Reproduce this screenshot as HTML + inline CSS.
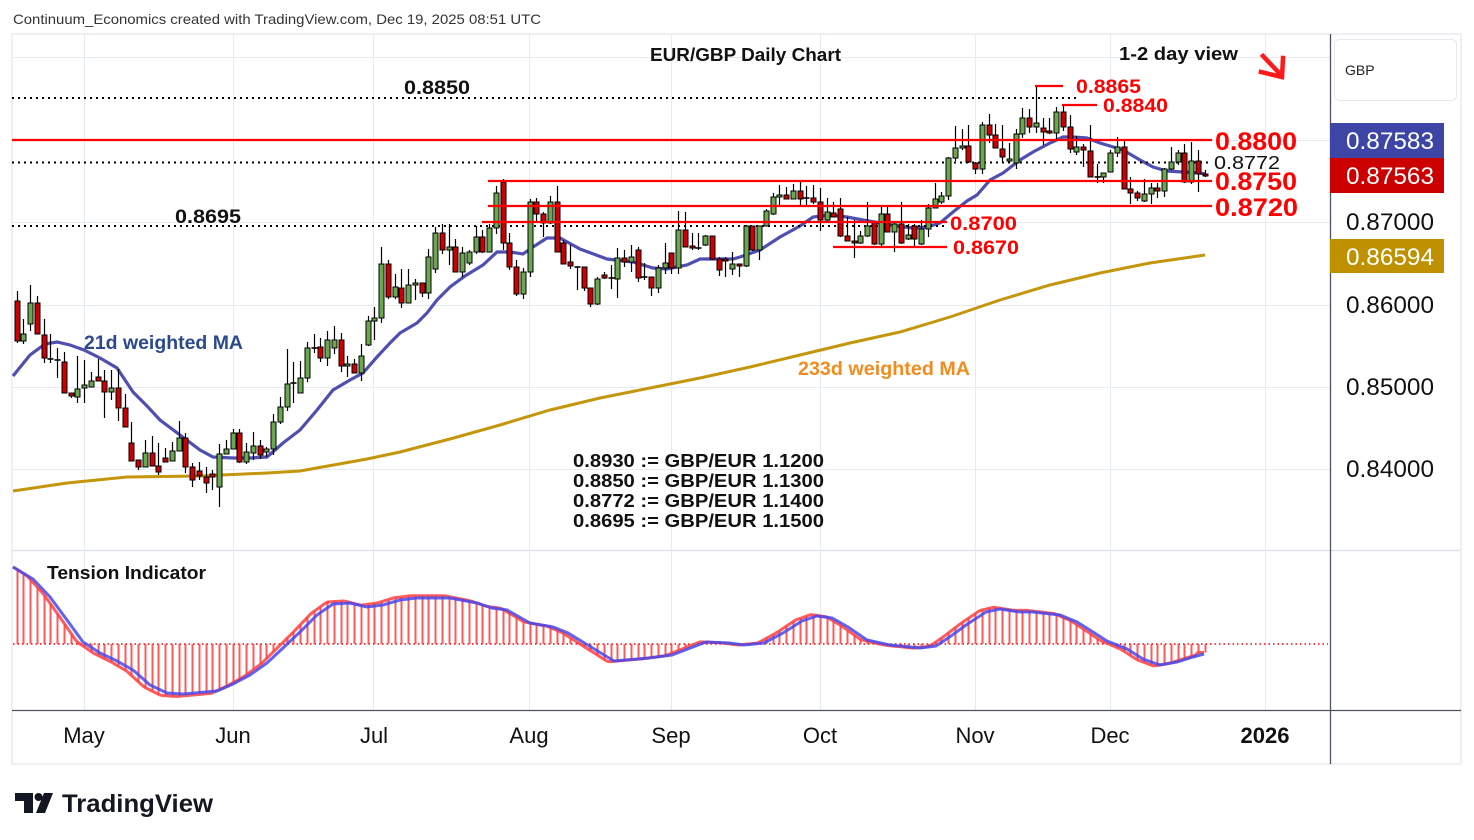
<!DOCTYPE html>
<html><head><meta charset="utf-8">
<style>
html,body{margin:0;padding:0;background:#fff;}
svg{display:block;}
text{font-family:"Liberation Sans",sans-serif;}
</style></head>
<body>
<svg id="s" width="1474" height="840" viewBox="0 0 1474 840" xmlns="http://www.w3.org/2000/svg">
<rect x="0" y="0" width="1474" height="840" fill="#fff"/>
<text x="13" y="24" font-size="14" fill="#333" textLength="528" lengthAdjust="spacingAndGlyphs">Continuum_Economics created with TradingView.com, Dec 19, 2025 08:51 UTC</text>
<rect x="12" y="34" width="1449" height="730" fill="#fff" stroke="#eef0f3" stroke-width="2"/>
<g stroke="#e6ecf3" stroke-width="1">
<line x1="12" x2="1330" y1="57.5" y2="57.5"/>
<line x1="12" x2="1330" y1="140.5" y2="140.5"/>
<line x1="12" x2="1330" y1="222.5" y2="222.5"/>
<line x1="12" x2="1330" y1="305.5" y2="305.5"/>
<line x1="12" x2="1330" y1="387.5" y2="387.5"/>
<line x1="12" x2="1330" y1="469.5" y2="469.5"/>
<line x1="84.5" x2="84.5" y1="34" y2="710"/>
<line x1="233.5" x2="233.5" y1="34" y2="710"/>
<line x1="373.5" x2="373.5" y1="34" y2="710"/>
<line x1="529.5" x2="529.5" y1="34" y2="710"/>
<line x1="671.5" x2="671.5" y1="34" y2="710"/>
<line x1="820.5" x2="820.5" y1="34" y2="710"/>
<line x1="975.5" x2="975.5" y1="34" y2="710"/>
<line x1="1110.5" x2="1110.5" y1="34" y2="710"/>
<line x1="1265.5" x2="1265.5" y1="34" y2="710"/>
</g>
<line x1="12" x2="1461" y1="550.5" y2="550.5" stroke="#e0e3eb" stroke-width="1.5"/>
<line x1="1330.5" x2="1330.5" y1="34" y2="764" stroke="#50535e" stroke-width="1.3"/>
<line x1="12" x2="1461" y1="710.5" y2="710.5" stroke="#50535e" stroke-width="1.3"/>

<!-- tension -->
<line x1="13" x2="1328" y1="644" y2="644" stroke="#ff0000" stroke-width="1.5" stroke-dasharray="1.5 3"/>
<g id="hist"></g>
<polyline id="tred" fill="none" stroke="#ff4040" stroke-opacity="0.85" stroke-width="3"/>
<polyline id="tblue" fill="none" stroke="#4848f0" stroke-opacity="0.85" stroke-width="3"/>

<!-- MAs -->
<polyline id="gold" fill="none" stroke="#c4960c" stroke-width="3"/>
<polyline id="blue" fill="none" stroke="#3c3ca8" stroke-opacity="0.9" stroke-width="3.2"/>

<!-- dotted levels -->
<g stroke="#000" stroke-width="2" stroke-dasharray="2 4">
<line x1="12" x2="1077" y1="98" y2="98"/>
<line x1="12" x2="1210" y1="162.5" y2="162.5"/>
<line x1="12" x2="945" y1="226" y2="226"/>
</g>

<g id="candles"></g>

<!-- red levels -->
<g stroke="#ff0000" stroke-width="2.2">
<line x1="12" x2="1212" y1="140" y2="140"/>
<line x1="488" x2="1212" y1="181" y2="181"/>
<line x1="488" x2="1212" y1="206" y2="206"/>
<line x1="482" x2="947" y1="222" y2="222"/>
<line x1="833" x2="947" y1="247" y2="247"/>
<line x1="1035" x2="1063" y1="86" y2="86"/>
<line x1="1062" x2="1097" y1="105" y2="105"/>
</g>
<g font-weight="bold" fill="#ff0000">
<text x="1215" y="150" font-size="25" textLength="82" lengthAdjust="spacingAndGlyphs">0.8800</text>
<text x="1215" y="190" font-size="25" textLength="82" lengthAdjust="spacingAndGlyphs">0.8750</text>
<text x="1215" y="216" font-size="25" textLength="83" lengthAdjust="spacingAndGlyphs">0.8720</text>
<text x="950" y="230" font-size="19" textLength="67" lengthAdjust="spacingAndGlyphs">0.8700</text>
<text x="953" y="254" font-size="19" textLength="66" lengthAdjust="spacingAndGlyphs">0.8670</text>
<text x="1076" y="93" font-size="19" textLength="65" lengthAdjust="spacingAndGlyphs">0.8865</text>
<text x="1103" y="112" font-size="19" textLength="65" lengthAdjust="spacingAndGlyphs">0.8840</text>
</g>
<g font-weight="bold" fill="#111">
<text x="404" y="94" font-size="19" textLength="66" lengthAdjust="spacingAndGlyphs">0.8850</text>
<text x="175" y="223" font-size="19" textLength="66" lengthAdjust="spacingAndGlyphs">0.8695</text>
<text x="1214" y="169" font-size="18" font-weight="normal" textLength="66" lengthAdjust="spacingAndGlyphs">0.8772</text>
<text x="650" y="61" font-size="18" textLength="191" lengthAdjust="spacingAndGlyphs">EUR/GBP Daily Chart</text>
<text x="1119" y="60" font-size="18" textLength="119" lengthAdjust="spacingAndGlyphs">1-2 day view</text>
<text x="573" y="467" font-size="18" textLength="251" lengthAdjust="spacingAndGlyphs">0.8930 := GBP/EUR 1.1200</text>
<text x="573" y="487" font-size="18" textLength="251" lengthAdjust="spacingAndGlyphs">0.8850 := GBP/EUR 1.1300</text>
<text x="573" y="507" font-size="18" textLength="251" lengthAdjust="spacingAndGlyphs">0.8772 := GBP/EUR 1.1400</text>
<text x="573" y="527" font-size="18" textLength="251" lengthAdjust="spacingAndGlyphs">0.8695 := GBP/EUR 1.1500</text>
<text x="47" y="579" font-size="18" textLength="159" lengthAdjust="spacingAndGlyphs">Tension Indicator</text>
</g>
<text x="84" y="349" font-size="19" font-weight="bold" fill="#2b4a8b" textLength="159" lengthAdjust="spacingAndGlyphs">21d weighted MA</text>
<text x="798" y="375" font-size="19" font-weight="bold" fill="#f28c1e" textLength="172" lengthAdjust="spacingAndGlyphs">233d weighted MA</text>
<!-- arrow -->
<g stroke="#ff1a1a" stroke-width="4.5" fill="none" stroke-linecap="square">
<line x1="1263" y1="56" x2="1281" y2="75"/>
<polyline points="1261,72 1282,77 1283,58"/>
</g>

<!-- price axis -->
<rect x="1334.5" y="39.5" width="122" height="61" rx="5" fill="#fff" stroke="#e6e8ee"/>
<text x="1345" y="75" font-size="14" fill="#222">GBP</text>
<rect x="1330" y="123" width="114" height="35" fill="#3d46a6"/>
<rect x="1330" y="158" width="114" height="35" fill="#cc0000"/>
<rect x="1330" y="239" width="114" height="34" fill="#bf9000"/>
<g font-size="24">
<text x="1346" y="149" fill="#fff" textLength="88" lengthAdjust="spacingAndGlyphs">0.87583</text>
<text x="1346" y="184" fill="#fff" textLength="88" lengthAdjust="spacingAndGlyphs">0.87563</text>
<text x="1346" y="230" fill="#111" textLength="88" lengthAdjust="spacingAndGlyphs">0.87000</text>
<text x="1346" y="265" fill="#fff" textLength="88" lengthAdjust="spacingAndGlyphs">0.86594</text>
<text x="1346" y="313" fill="#111" textLength="88" lengthAdjust="spacingAndGlyphs">0.86000</text>
<text x="1346" y="395" fill="#111" textLength="88" lengthAdjust="spacingAndGlyphs">0.85000</text>
<text x="1346" y="477" fill="#111" textLength="88" lengthAdjust="spacingAndGlyphs">0.84000</text>
</g>
<!-- time axis -->
<g font-size="22" fill="#111" text-anchor="middle">
<text x="84" y="743">May</text>
<text x="233" y="743">Jun</text>
<text x="374" y="743">Jul</text>
<text x="529" y="743">Aug</text>
<text x="671" y="743">Sep</text>
<text x="820" y="743">Oct</text>
<text x="975" y="743">Nov</text>
<text x="1110" y="743">Dec</text>
<text x="1265" y="743" font-weight="bold">2026</text>
</g>
<!-- logo -->
<g fill="#131722">
<path d="M15 793 H33 V813 H24 V801 H15 Z"/>
<circle cx="38.5" cy="797" r="4"/>
<path d="M44 793 H53 L45 813 H36 Z"/>
</g>
<text x="62" y="812" font-size="25" font-weight="bold" fill="#131722" textLength="151" lengthAdjust="spacingAndGlyphs">TradingView</text>
</svg>
<script>
(function(){
var C=[[301,341,291,343],[341,334,319,344],[324,303,285,331],[303,334,296,334],[335,358,319,363],[359,359,334,363],[360,360,348,378],[362,393,352,393],[393,396,393,398],[397,389,356,403],
[388,385,360,403],[387,381,372,387],[377,381,359,381],[381,392,370,418],[392,388,370,400],[388,408,369,421],[408,427,394,427],[443,461,422,461],[460,467,460,470],[467,453,440,467],
[453,466,436,466],[466,472,443,475],[458,462,448,462],[461,451,442,461],[451,438,421,451],[438,467,433,473],[467,480,463,487],[471,476,462,480],[477,483,467,493],[474,477,470,490],
[487,454,444,507],[454,449,440,454],[449,433,429,449],[433,462,429,463],[462,452,443,464],[453,446,432,460],[446,455,440,459],[452,449,447,457],[449,422,414,455],[422,407,397,424],
[407,384,349,411],[383,383,362,403],[393,378,361,393],[378,348,342,382],[348,348,334,353],[347,358,338,362],[358,340,331,366],[348,340,326,354],[340,366,333,372],[366,364,356,377],
[364,373,359,373],[373,356,344,381],[345,321,316,346],[321,318,307,340],[318,264,247,323],[264,297,260,299],[297,287,274,299],[288,303,269,308],[303,285,269,303],[285,283,279,300],
[283,293,283,297],[293,257,249,299],[269,233,227,273],[233,250,224,254],[250,247,224,265],[247,272,239,272],[272,253,247,277],[263,252,250,265],[252,237,226,254],[237,252,230,253],
[252,228,224,252],[228,193,186,234],[182,243,179,250],[243,267,233,270],[267,294,260,296],[294,272,268,299],[272,202,199,277],[202,214,198,222],[214,223,212,237],[223,202,196,224],
[202,252,186,252],[243,264,240,264],[262,266,245,269],[267,267,267,290],[267,288,267,291],[288,304,288,307],[304,279,277,305],[275,278,272,279],[278,278,265,289],[279,258,248,298],
[258,262,250,267],[262,257,245,272],[250,278,247,282],[277,277,263,280],[277,288,277,296],[288,268,265,293],[268,263,243,274],[253,268,253,274],[268,230,211,274],[230,247,212,247],
[246,248,233,250],[248,248,233,250],[245,236,235,246],[236,259,236,260],[259,270,257,276],[259,261,257,277],[269,264,252,275],[264,266,264,277],[266,226,225,267],[226,250,226,251],
[250,226,226,260],[226,211,209,226],[214,197,193,215],[197,195,185,207],[195,199,187,199],[199,191,184,199],[191,199,182,205],[198,198,186,207],[198,202,185,204],[202,220,188,231],
[220,212,198,222],[213,217,202,217],[209,236,198,237],[236,241,217,241],[241,243,220,258],[243,236,231,244],[236,226,202,237],[222,244,222,245],[244,214,207,248],[214,232,207,232],
[232,224,223,252],[224,243,202,244],[239,235,224,240],[226,239,224,246],[244,229,220,245],[229,208,204,237],[208,199,183,207],[202,196,192,204],[196,158,157,200],[158,148,126,161],
[148,146,129,150],[146,162,125,163],[163,169,162,174],[169,125,122,174],[125,135,114,143],[135,148,124,148],[149,157,125,163],[161,159,143,163],[163,134,129,169],[134,118,108,138],
[118,127,109,133],[127,123,86,133],[128,132,118,145],[131,133,118,134],[133,112,107,140],[112,127,106,131],[127,149,115,153],[152,147,136,155],[147,150,144,167],[151,177,125,177],
[177,177,164,183],[177,173,173,183],[172,153,150,172],[153,147,137,157],[147,189,141,189],[189,193,177,204],[193,198,191,201],[201,194,179,202],[194,188,183,204],[188,191,183,198],
[191,169,168,197],[169,162,147,170],[162,153,150,165],[153,182,144,183],[182,161,142,184],[161,174,150,192],[174,176,170,177]];
function X(i){return Math.round(16.5+6.75*i)+0.5;}
var h='';
for(var i=0;i<C.length;i++){var d=C[i],cx=X(i),o=d[0],c=d[1],hi=d[2],lo=d[3];
 h+='<line x1="'+cx+'" x2="'+cx+'" y1="'+hi+'" y2="'+lo+'" stroke="#000" stroke-width="1.2"/>';
 if(o===c){h+='<line x1="'+(cx-3)+'" x2="'+(cx+3)+'" y1="'+o+'" y2="'+o+'" stroke="#000" stroke-width="1.6"/>';}
 else{var t=Math.min(o,c),b=Math.max(o,c),col=c<o?'#6aa84f':'#cc0000';
 h+='<rect x="'+(cx-2.5)+'" y="'+t+'" width="5" height="'+Math.max(b-t,1)+'" fill="'+col+'" stroke="#000" stroke-width="1"/>';}
}
document.getElementById('candles').innerHTML=h;
function pts(a){return a.map(function(p){return p[0]+','+p[1];}).join(' ');}
var blue=[[13,376],[30,355],[45,344],[57,342],[70,345],[84,350],[100,358],[117,368],[133,392],[147,406],[160,420],[180,435],[200,450],[213,457],[233,458],[250,458],[267,457],[283,443],[300,430],[317,410],[333,390],[350,380],[363,373],[377,357],[390,343],[400,333],[417,323],[427,313],[437,300],[450,287],[465,276],[483,265],[497,252],[510,252],[523,254],[533,247],[547,238],[560,238],[580,249],[607,259],[633,262],[653,268],[667,269],[687,265],[700,259],[733,259],[740,257],[760,250],[780,237],[800,226],[813,217],[830,215],[847,217],[863,220],[880,223],[897,226],[913,228],[927,227],[940,223],[953,212],[967,201],[977,195],[990,180],[1003,173],[1020,160],[1033,152],[1050,143],[1063,137],[1073,137],[1087,138],[1100,143],[1110,146],[1123,150],[1140,160],[1153,167],[1167,171],[1183,172],[1200,173],[1205,174]];
var gold=[[13,491],[67,483],[127,477],[200,476],[267,473],[300,471],[367,459],[400,452],[450,439],[500,425],[550,410],[600,398],[650,388],[700,378],[750,367],[800,355],[850,343],[900,332],[950,317],[1000,300],[1050,285],[1100,273],[1150,263],[1205,255]];
document.getElementById('blue').setAttribute('points',pts(blue));
document.getElementById('gold').setAttribute('points',pts(gold));
var tb=[[13,567],[33,579],[50,597],[67,620],[83,642],[100,653],[117,661],[133,670],[150,685],[167,693],[183,694],[217,691],[233,684],[250,675],[267,663],[283,648],[300,632],[317,615],[333,604],[350,603],[367,607],[383,605],[400,600],[417,598],[438,598],[450,598],[477,603],[492,608],[507,610],[530,623],[553,627],[568,633],[591,647],[614,661],[649,658],[672,655],[706,642],[729,643],[744,645],[764,643],[783,633],[802,621],[817,616],[832,618],[848,627],[867,640],[890,645],[920,648],[936,646],[951,636],[966,625],[986,612],[1000,609],[1020,612],[1033,612],[1060,615],[1077,622],[1093,632],[1107,641],[1127,649],[1143,659],[1160,665],[1177,662],[1193,657],[1204,654]];
function interp(a,x){if(x<=a[0][0])return a[0][1];for(var k=1;k<a.length;k++){if(x<=a[k][0]){var p=a[k-1],q=a[k];return p[1]+(q[1]-p[1])*(x-p[0])/(q[0]-p[0]);}}return a[a.length-1][1];}
document.getElementById('tblue').setAttribute('points',pts(tb));
var red=[],hh='';
for(var x=13;x<=1204;x+=3){var v=interp(tb,Math.min(x+6,1204));var dv=v-644;v=644+dv*1.05;if(x>1196)v=v-2;red.push([x,v.toFixed(1)]);}
document.getElementById('tred').setAttribute('points',pts(red));
for(var i=0;i<C.length;i++){var cx=X(i);var v=interp(tb,Math.min(cx+6,1204));v=644+(v-644)*1.05;if(cx>1196)v-=2;
 hh+='<line x1="'+cx+'" x2="'+cx+'" y1="644" y2="'+v.toFixed(1)+'" stroke="#ff3030" stroke-opacity="0.8" stroke-width="2"/>';}
document.getElementById('hist').innerHTML=hh;
})();
</script>
</body></html>
